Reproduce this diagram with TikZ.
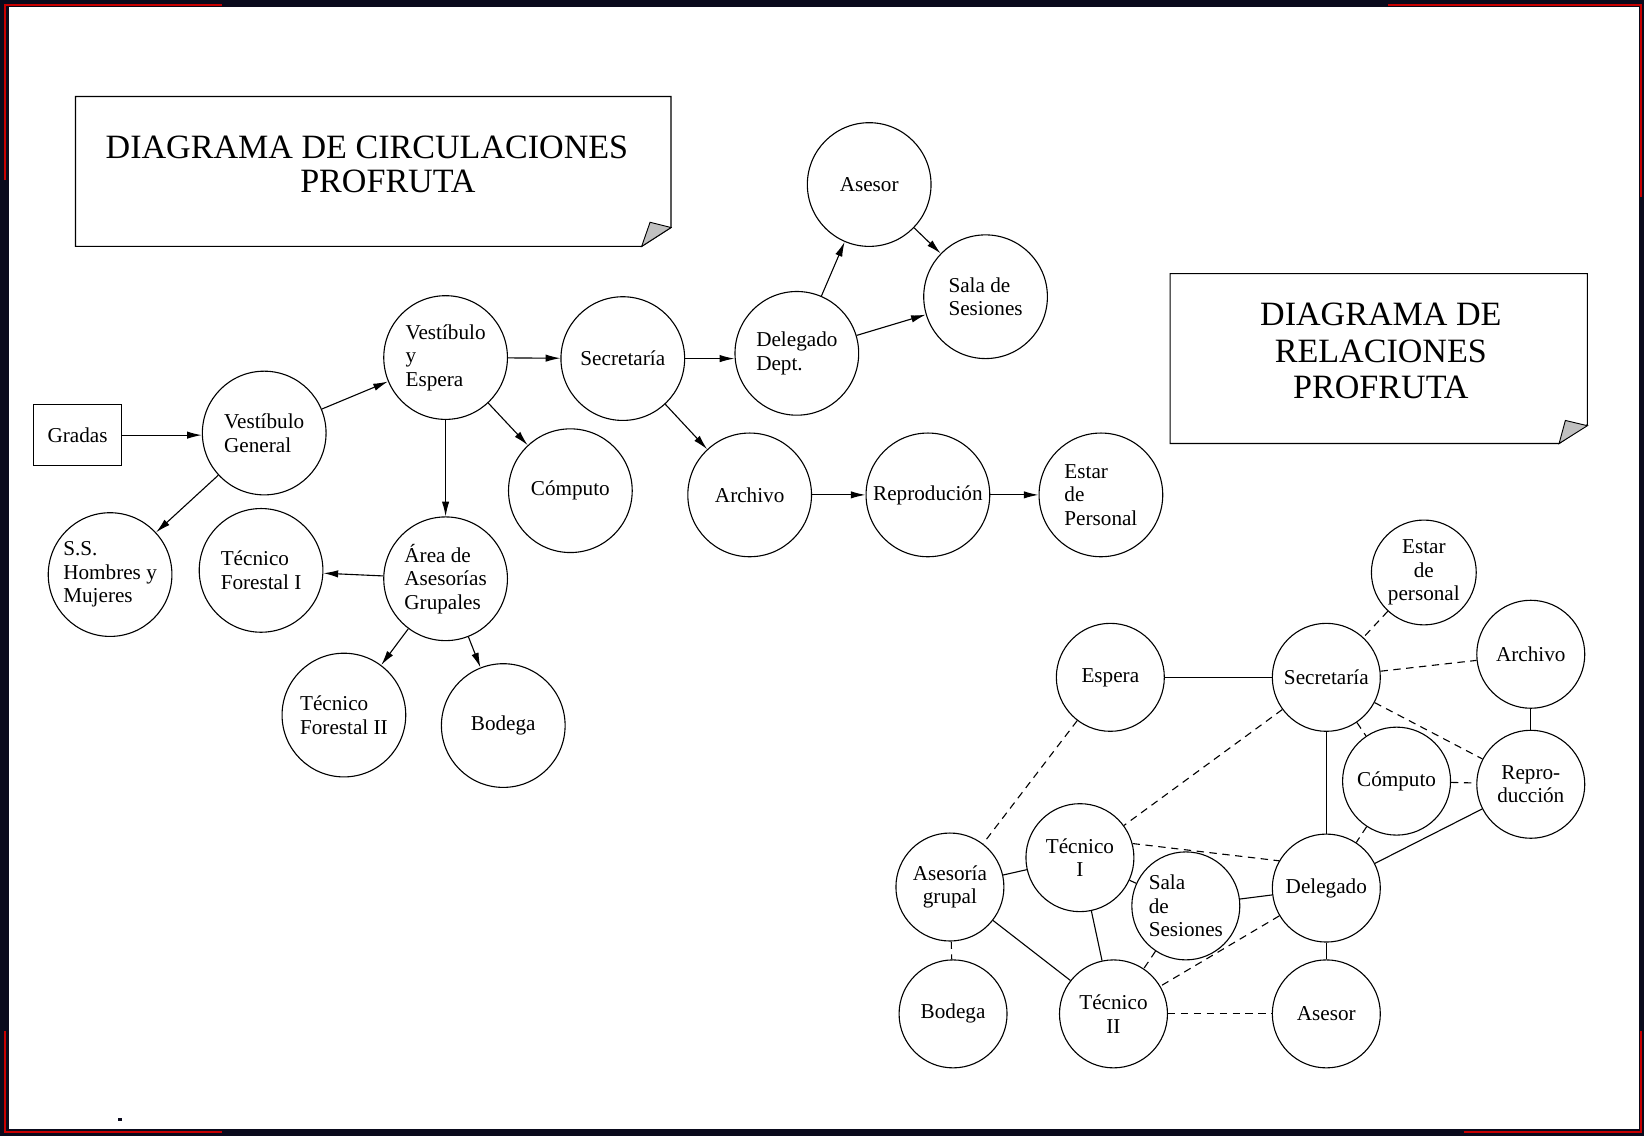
\documentclass[tikz,border=0pt]{standalone}
\usepackage{fontspec}
\setmainfont{Liberation Serif}
\usetikzlibrary{arrows.meta}

\definecolor{marco}{RGB}{10,10,28}
\definecolor{rojo}{RGB}{200,0,0}
\definecolor{pliegue}{RGB}{192,192,192}

\tikzset{
  local/.style={draw, circle, line width=0.6pt, inner sep=0pt, minimum size=2.36cm, align=left, font=\fontsize{11.5}{12.8}\selectfont},
  relac/.style={draw, circle, line width=0.6pt, inner sep=0pt, minimum size=2.06cm, align=center, font=\fontsize{11.5}{12.8}\selectfont},
  flecha/.style={line width=0.6pt, -{Latex[length=8pt,width=4pt]}},
  enlace/.style={line width=0.6pt},
  punteado/.style={line width=0.6pt, dash pattern=on 4pt off 3pt},
  titulo/.style={align=center, font=\fontsize{18.5}{18.5}\selectfont},
  esquina/.style={rojo, line width=1.1pt}
}

\begin{document}
\begin{tikzpicture}[x=0.02cm, y=-0.02cm]
% Marco
\fill[marco] (0,0) rectangle (1568,1083);
\fill[white] (8.5,7) rectangle (1563,1077);
\draw[esquina] (4.5,172) -- (4.5,5) -- (212,5);
\draw[esquina] (1324,5) -- (1565,5) -- (1565,188);
\draw[esquina] (4.5,983) -- (4.5,1080) -- (212,1080);
\draw[esquina] (1396,1080) -- (1565,1080) -- (1565,983);
\fill[marco] (113,1066) rectangle (116,1069);

% Titulos
\draw[line width=0.6pt] (72,92) -- (640,92) -- (640,217) -- (612,235) -- (72,235) -- cycle;
\filldraw[fill=pliegue, line width=0.5pt] (612,235) -- (620,212) -- (640,217) -- cycle;
\node[titulo] (tit1) at (350,157) {DIAGRAMA DE CIRCULACIONES\\\hspace*{0.8cm}PROFRUTA};

\draw[line width=0.6pt] (1116,261) -- (1514,261) -- (1514,405) -- (1487,423) -- (1116,423) -- cycle;
\filldraw[fill=pliegue, line width=0.5pt] (1487,423) -- (1493,401) -- (1514,406) -- cycle;
\node[titulo, font=\fontsize{18.5}{19.8}\selectfont] (tit2) at (1317,335) {DIAGRAMA DE\\RELACIONES\\PROFRUTA};

% Circulaciones
\node[draw, line width=0.6pt, minimum width=1.68cm, minimum height=1.16cm, font=\fontsize{11.5}{12.8}\selectfont] (gradas) at (74,415) {Gradas};
\node[local] (vgen) at (252,413) {Vestíbulo\\General};
\node[local] (vesp) at (425,341) {Vestíbulo\\y\\Espera};
\node[local] (secL) at (594,342) {Secretaría};
\node[local] (deleL) at (760,337) {Delegado\\Dept.};
\node[local] (aseL) at (829,176) {Asesor};
\node[local] (salaL) at (940,283) {Sala de\\Sesiones};
\node[local] (compL) at (544,468) {Cómputo};
\node[local] (archL) at (715,472) {Archivo};
\node[local] (repL) at (885,472) {Reprodución};
\node[local] (estarL) at (1050,472) {Estar\\de\\Personal};
\node[local] (ss) at (105,548) {S.S.\\Hombres y\\Mujeres};
\node[local] (tf1) at (249,544) {Técnico\\Forestal I};
\node[local] (area) at (425,552) {Área de\\Asesorías\\Grupales};
\node[local] (tf2) at (328,682) {Técnico\\Forestal II};
\node[local] (bodL) at (480,692) {Bodega};

\draw[flecha] (gradas) -- (gradas -| vgen.west);
\draw[flecha] (vgen) -- (vesp);
\draw[flecha] (vgen) -- (ss);
\draw[flecha] (vesp) -- (secL);
\draw[flecha] (vesp) -- (compL);
\draw[flecha] (vesp) -- (area);
\draw[flecha] (secL) -- (secL -| deleL.west);
\draw[flecha] (secL) -- (archL);
\draw[flecha] (deleL) -- (aseL);
\draw[flecha] (aseL) -- (salaL);
\draw[flecha] (deleL) -- (salaL);
\draw[flecha] (archL) -- (repL);
\draw[flecha] (repL) -- (estarL);
\draw[flecha] (area) -- (tf1);
\draw[flecha] (area) -- (tf2);
\draw[flecha] (area) -- (bodL);

% Relaciones
\node[relac, minimum size=2cm] (estarR) at (1358,546) {Estar\\de\\personal};
\node[relac] (esp) at (1059,646) {Espera};
\node[relac] (secR) at (1265,646) {Secretaría};
\node[relac] (archR) at (1460,624) {Archivo};
\node[relac] (compR) at (1332,745) {Cómputo};
\node[relac] (repR) at (1460,748) {Repro-\\ducción};
\node[relac] (tec1) at (1030,818) {Técnico\\I};
\node[relac] (asg) at (906,846) {Asesoría\\grupal};
\node[relac, align=left] (salaR) at (1131,864) {Sala\\de\\Sesiones};
\node[relac] (deleR) at (1265,847) {Delegado};
\node[relac] (bodR) at (909,967) {Bodega};
\node[relac] (tec2) at (1062,967) {Técnico\\II};
\node[relac] (aseR) at (1265,967) {Asesor};

\draw[enlace] (esp) -- (secR);
\draw[enlace] (secR) -- (deleR);
\draw[enlace] (archR) -- (repR);
\draw[enlace] (deleR) -- (repR);
\draw[enlace] (deleR) -- (aseR);
\draw[enlace] (asg) -- (tec1);
\draw[enlace] (asg) -- (tec2);
\draw[enlace] (tec1) -- (tec2);
\draw[enlace] (salaR) -- (deleR);

\draw[punteado] (estarR) -- (secR);
\draw[punteado] (secR) -- (archR);
\draw[punteado] (secR) -- (repR);
\draw[punteado] (secR) -- (compR);
\draw[punteado] (secR) -- (tec1);
\draw[punteado] (esp) -- (asg);
\draw[punteado] (compR) -- (repR);
\draw[punteado] (compR) -- (deleR);
\draw[punteado] (tec1.15) -- (deleR.150);
\draw[punteado] (tec1) -- (salaR);
\draw[punteado] (salaR) -- (tec2);
\draw[punteado] (deleR) -- (tec2);
\draw[punteado] (tec2) -- (aseR);
\draw[punteado] (asg) -- (bodR);
\end{tikzpicture}
\end{document}
